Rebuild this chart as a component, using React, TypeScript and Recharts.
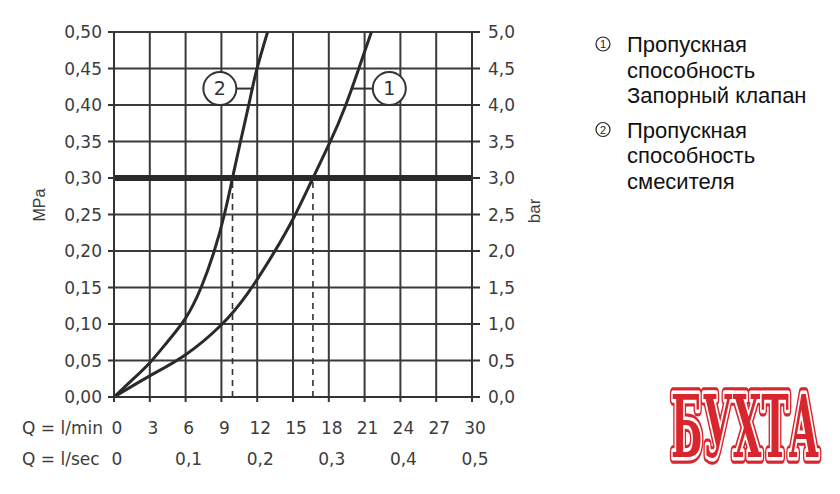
import React from 'react';
import {
  ComposedChart,
  Line,
  XAxis,
  YAxis,
  CartesianGrid,
  ReferenceLine,
  ReferenceDot,
  Customized,
} from 'recharts';

// flow axis (l/min) and the matching l/sec row
const qTicks = [0, 3, 6, 9, 12, 15, 18, 21, 24, 27, 30];
const secTicks = [0, 0.1, 0.2, 0.3, 0.4, 0.5];
const mpaTicks = [0, 0.05, 0.1, 0.15, 0.2, 0.25, 0.3, 0.35, 0.4, 0.45, 0.5];
const barTicks = [0, 0.5, 1, 1.5, 2, 2.5, 3, 3.5, 4, 4.5, 5];

// curve 1 - shut-off valve
const valveQ = [0, 3, 6, 9, 11.2, 13.3, 15.1, 16.67, 18.1, 19.35, 20.45, 21.57];
const valveP = [0, 0.029, 0.058, 0.099, 0.142, 0.195, 0.247, 0.3, 0.349, 0.397, 0.447, 0.5];

// curve 2 - mixer
const mixerQ = [0, 1.5, 3, 4.5, 6, 7.3, 8.4, 9.25, 9.93, 10.6, 11.25, 11.94, 12.87];
const mixerP = [0, 0.023, 0.047, 0.076, 0.108, 0.15, 0.2, 0.25, 0.3, 0.35, 0.397, 0.447, 0.5];

const workPressure = 0.3;
const dashQ = [9.93, 16.67];

// numbered callouts on the curves
const callouts = [
  { label: '2', q: 8.87, p: 0.4225, from: 10.25, to: 11.7 },
  { label: '1', q: 23.07, p: 0.4225, from: 19.9, to: 21.7 },
];

const legend1 = ['Пропускная', 'способность', 'Запорный клапан'];
const legend2 = ['Пропускная', 'способность', 'смесителя'];

const valveCurve = valveQ.map((q, i) => ({ q, p: valveP[i] }));
const mixerCurve = mixerQ.map((q, i) => ({ q, p: mixerP[i] }));

const INK = '#333333';
const FONT = '"DejaVu Sans", sans-serif';
const ARIAL = '"Liberation Sans", Arial, sans-serif';
const tickStyle = { fill: '#3c3c3c', fontSize: 17, fontFamily: FONT };

const comma = (v: number, d: number) => v.toFixed(d).replace('.', ',');

// two rows under the x axis: l/min and, every 6 l/min, l/sec
const FlowTick = (props: any) => {
  const { x, y, payload } = props;
  const q = payload.value;
  const s = secTicks.find((v) => Math.abs(v * 60 - q) < 1e-6);
  return (
    <g>
      <text x={x + 3} y={y + 12} textAnchor="middle" {...tickStyle}>
        {q}
      </text>
      {s !== undefined && (
        <text x={x + 3} y={y + 43} textAnchor="middle" {...tickStyle}>
          {s === 0 ? '0' : comma(s, 1)}
        </text>
      )}
    </g>
  );
};

const Overlay = () => (
  <g>
    {/* axis captions */}
    <text x={22} y={434} fontFamily={FONT} fontSize={17} fill="#3c3c3c">Q = l/min</text>
    <text x={22} y={465} fontFamily={FONT} fontSize={17} fill="#3c3c3c">Q = l/sec</text>
    <text
      x={0}
      y={0}
      transform="translate(45,205) rotate(-90)"
      textAnchor="middle"
      fontFamily={ARIAL}
      fontSize={16}
      fill="#3c3c3c"
    >
      MPa
    </text>
    <text
      x={0}
      y={0}
      transform="translate(540,211) rotate(-90)"
      textAnchor="middle"
      fontFamily={ARIAL}
      fontSize={17}
      fill="#3c3c3c"
    >
      bar
    </text>

    {/* legend */}
    {[legend1, legend2].map((lines, k) => {
      const base = k === 0 ? 52 : 137.5;
      return (
        <g key={k}>
          <circle cx={603} cy={base - 8} r={7} fill="none" stroke="#222" strokeWidth={1.2} />
          <text x={603} y={base - 4} textAnchor="middle" fontFamily={ARIAL} fontSize={11} fill="#222">
            {k + 1}
          </text>
          {lines.map((t, i) => (
            <text key={i} x={627} y={base + i * 25.7} fontFamily={ARIAL} fontSize={22} fill="#111">
              {t}
            </text>
          ))}
        </g>
      );
    })}

    {/* watermark */}
    <g transform="translate(745,457) scale(1,2.25)">
      {[
        { stroke: '#d7262e', sw: 6 },
        { stroke: '#ffffff', sw: 3.2 },
        { stroke: 'none', sw: 0 },
      ].map((s, i) => (
        <text
          key={i}
          x={0}
          y={0}
          textAnchor="middle"
          textLength={148}
          lengthAdjust="spacingAndGlyphs"
          fontFamily='"DejaVu Serif", serif'
          fontWeight="bold"
          fontSize={38}
          fill="#d7262e"
          stroke={s.stroke}
          strokeWidth={s.sw}
          strokeLinejoin="round"
        >
          БУХТА
        </text>
      ))}
    </g>
  </g>
);

export default function App() {
  return (
    <div style={{ position: 'absolute', left: 0, top: 0, width: 840, height: 494, background: '#fff' }}>
      <ComposedChart width={840} height={494} margin={{ top: 32, right: 308, bottom: 67, left: 0 }}>
        <CartesianGrid
          xAxisId="min"
          yAxisId="mpa"
          stroke="#3a3a3a"
          strokeWidth={2}
          horizontalValues={mpaTicks}
          verticalValues={qTicks}
        />
        <XAxis
          xAxisId="min"
          dataKey="q"
          type="number"
          domain={[0, 30]}
          ticks={qTicks}
          allowDataOverflow
          height={30}
          tickSize={5}
          tickMargin={20}
          axisLine={{ stroke: INK, strokeWidth: 2 }}
          tickLine={{ stroke: INK, strokeWidth: 2 }}
          tick={<FlowTick />}
          interval={0}
        />
        <YAxis
          yAxisId="mpa"
          type="number"
          domain={[0, 0.5]}
          ticks={mpaTicks}
          allowDataOverflow
          width={114}
          tickSize={6}
          tickMargin={6}
          axisLine={{ stroke: INK, strokeWidth: 2 }}
          tickLine={{ stroke: INK, strokeWidth: 2 }}
          tick={tickStyle}
          tickFormatter={(v: number) => comma(v, 2)}
          interval={0}
        />
        <YAxis
          yAxisId="bar"
          orientation="right"
          type="number"
          domain={[0, 5]}
          ticks={barTicks}
          allowDataOverflow
          width={60}
          tickSize={8}
          tickMargin={8}
          axisLine={{ stroke: INK, strokeWidth: 2 }}
          tickLine={{ stroke: INK, strokeWidth: 2 }}
          tick={tickStyle}
          tickFormatter={(v: number) => comma(v, 1)}
          interval={0}
        />

        {dashQ.map((q) => (
          <ReferenceLine
            key={q}
            xAxisId="min"
            yAxisId="mpa"
            segment={[{ x: q, y: 0 }, { x: q, y: workPressure }]}
            stroke={INK}
            strokeWidth={1.6}
            strokeDasharray="6 5"
          />
        ))}
        <ReferenceLine xAxisId="min" yAxisId="mpa" y={workPressure} stroke="#2a2a2a" strokeWidth={6} />

        {callouts.map((c) => (
          <ReferenceLine
            key={'l' + c.label}
            xAxisId="min"
            yAxisId="mpa"
            segment={[{ x: c.from, y: c.p }, { x: c.to, y: c.p }]}
            stroke={INK}
            strokeWidth={2}
          />
        ))}

        <Line
          xAxisId="min"
          yAxisId="mpa"
          data={valveCurve}
          dataKey="p"
          type="natural"
          stroke="#2a2a2a"
          strokeWidth={3}
          dot={false}
          activeDot={false}
          isAnimationActive={false}
        />
        <Line
          xAxisId="min"
          yAxisId="mpa"
          data={mixerCurve}
          dataKey="p"
          type="natural"
          stroke="#2a2a2a"
          strokeWidth={3}
          dot={false}
          activeDot={false}
          isAnimationActive={false}
        />

        {callouts.map((c) => (
          <ReferenceDot
            key={'d' + c.label}
            xAxisId="min"
            yAxisId="mpa"
            x={c.q}
            y={c.p}
            r={16.5}
            fill="#fff"
            stroke={INK}
            strokeWidth={2}
            label={{ value: c.label, position: 'center', fill: '#333', fontSize: 19, fontFamily: FONT }}
          />
        ))}

        <Customized component={Overlay} />
      </ComposedChart>
    </div>
  );
}
